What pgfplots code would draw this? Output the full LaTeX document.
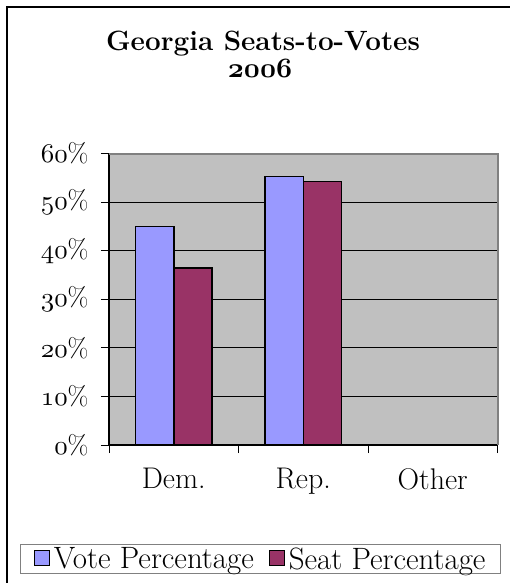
\documentclass[border=0pt]{standalone}
\usepackage{pgfplots}
\pgfplotsset{compat=1.18}
\definecolor{votec}{HTML}{9999FF}
\definecolor{seatc}{HTML}{993366}
\definecolor{plotbg}{HTML}{C0C0C0}
\definecolor{frameg}{HTML}{808080}
% old-style figures from the math italic fonts
\DeclareFontFamily{OML}{osf}{}
\DeclareFontShape{OML}{osf}{m}{it}{<->cmmi10}{}
\DeclareFontShape{OML}{osf}{b}{it}{<->cmmib10}{}
\newcommand\os[1]{{\usefont{OML}{osf}{m}{it}#1}}
\newcommand\bos[1]{{\usefont{OML}{osf}{b}{it}#1}}
\begin{document}
\begin{tikzpicture}
\useasboundingbox (0bp,0bp) rectangle (510bp,-583bp);
\draw[line width=2bp] (7bp,-7bp) rectangle (520bp,-595bp);
\node[font=\fontsize{28}{34}\selectfont\bfseries, anchor=base, inner sep=0pt] at (263bp,-50bp) {Georgia Seats-to-Votes};
\node[font=\fontsize{28}{34}\selectfont\bfseries, anchor=base, inner sep=0pt] at (260bp,-77bp) {\bos{2006}};
\begin{axis}[
    at={(109bp,-445bp)}, anchor=south west,
    width=388.5bp, height=291.5bp, scale only axis,
    ybar=0pt, bar width=0.294,
    xmin=-0.5, xmax=2.5, ymin=0, ymax=60,
    xtick={-0.5,0.5,1.5,2.5},
    x tick label as interval,
    xticklabels={Dem.,Rep.,Other},
    ytick={0,10,...,60},
    yticklabels={\os{0}\%,\os{10}\%,\os{20}\%,\os{30}\%,\os{40}\%,\os{50}\%,\os{60}\%},
    axis lines=left, axis line style={-, black, line width=1.2bp},
    tick align=outside, major tick length=8bp,
    tick style={black, line width=1bp},
    ymajorgrids, grid style={black, line width=0.9bp},
    axis background/.style={fill=plotbg},
    yticklabel style={font=\fontsize{27}{32}\selectfont, xshift=-9bp},
    xticklabel style={font=\fontsize{30}{36}\selectfont, yshift=-12bp},
    legend style={at={(0.3905,-0.391)}, anchor=center, draw=frameg,
        line width=1bp, font=\fontsize{31}{37}\selectfont,
        legend columns=2, inner xsep=13bp, inner ysep=1bp,
        /tikz/every odd column/.append style={column sep=2bp},
        /tikz/every even column/.append style={column sep=13bp}},
    after end axis/.code={
        \draw[frameg, line width=2bp] (rel axis cs:0,1) -- (rel axis cs:1,1) -- (rel axis cs:1,0);
    },
]
\addplot[fill=votec, draw=black, line width=1.5bp,
    legend image code/.code={\draw[fill=votec, draw=black, line width=1bp] (0bp,-7bp) rectangle (15bp,8bp);}]
    coordinates {(0,45.0) (1,55.3)};
\addplot[fill=seatc, draw=black, line width=1.5bp,
    legend image code/.code={\draw[fill=seatc, draw=black, line width=1bp] (0bp,-7bp) rectangle (15bp,8bp);}]
    coordinates {(0,36.4) (1,54.2)};
\legend{Vote Percentage, Seat Percentage}
\end{axis}
\end{tikzpicture}
\end{document}
